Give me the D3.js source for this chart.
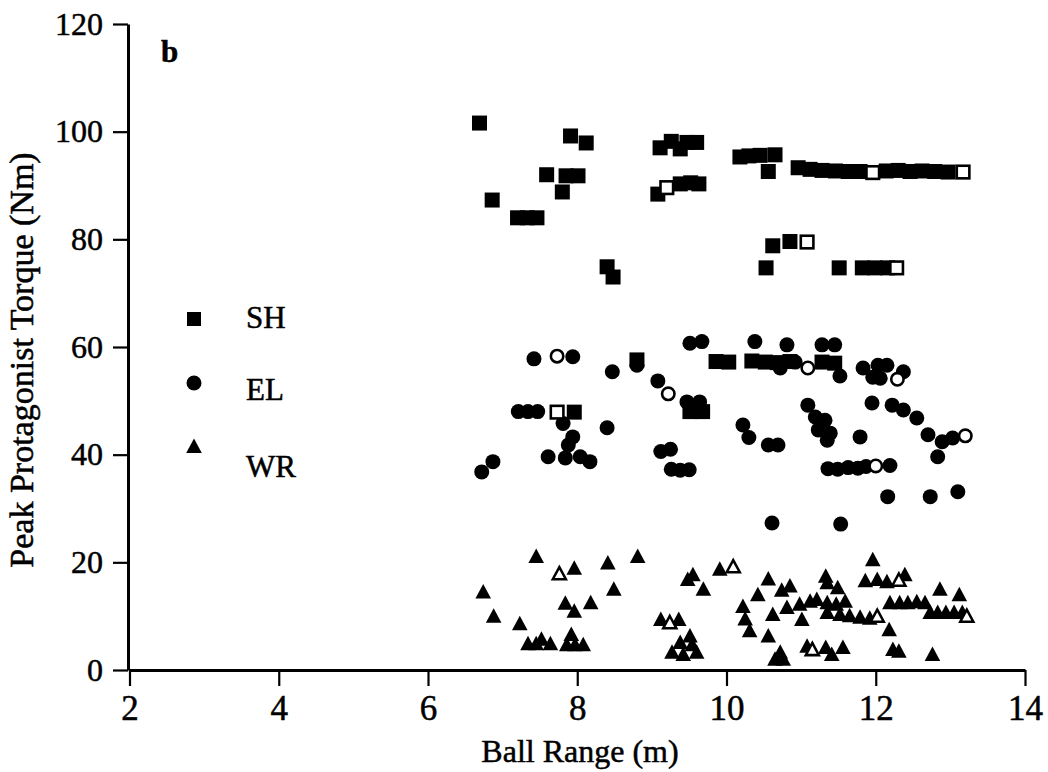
<!DOCTYPE html>
<html>
<head>
<meta charset="utf-8">
<script src="https://cdn.jsdelivr.net/npm/d3@7"></script>
<style>
  body { margin: 0; background: #fff; }
  text { font-family: "Liberation Serif", "Times New Roman", serif; fill: #000; stroke: #000; stroke-width: 0.5px; }
</style>
</head>
<body>
<svg id="chart" width="1048" height="772"></svg>
<script>
// Shoulder (SH) peak torque vs ball range; open markers flagged with 1
const shRange  = [6.69, 6.86, 7.20, 7.33, 7.46, 7.59, 7.80, 7.85, 7.91, 8.01, 8.12, 8.40, 8.48,
                  9.08, 9.20, 9.11, 9.26, 9.38, 9.47, 9.60, 9.38, 9.52, 9.63,
                  10.18, 10.30, 10.45, 10.65, 10.56,
                  10.96, 11.12, 11.28, 11.46, 11.63, 11.79, 11.96, 12.14, 12.30, 12.46, 12.62, 12.79, 12.97, 13.17,
                  10.62, 10.85, 11.08,
                  10.53, 11.51, 11.82, 11.99, 12.16, 12.28,
                  8.80, 7.73, 7.96, 9.51, 9.68,
                  9.86, 10.03, 10.34, 10.52, 10.68, 10.85, 11.28, 11.45];
const shTorque = [101.6, 87.3, 84.0, 84.0, 84.0, 92.0, 88.8, 91.8, 99.2, 91.8, 97.9, 74.9, 73.0,
                  88.4, 89.6, 97.0, 98.2, 96.8, 98.0, 98.0, 90.3, 90.5, 90.3,
                  95.3, 95.5, 95.6, 95.7, 92.6,
                  93.3, 93.0, 92.8, 92.7, 92.6, 92.6, 92.4, 92.7, 92.8, 92.6, 92.7, 92.6, 92.5, 92.5,
                  78.8, 79.6, 79.5,
                  74.7, 74.7, 74.7, 74.7, 74.7, 74.7,
                  57.6, 47.9, 47.9, 48.0, 48.0,
                  57.3, 57.2, 57.4, 57.2, 57.1, 57.3, 57.2, 57.0];
const shOpen   = [0, 0, 0, 0, 0, 0, 0, 0, 0, 0, 0, 0, 0,
                  0, 1, 0, 0, 0, 0, 0, 0, 0, 0,
                  0, 0, 0, 0, 0,
                  0, 0, 0, 0, 0, 0, 1, 0, 0, 0, 0, 0, 0, 1,
                  0, 0, 1,
                  0, 0, 0, 0, 0, 1,
                  0, 1, 0, 0, 0,
                  0, 0, 0, 0, 0, 0, 0, 0];

// Elbow (EL)
const elRange  = [7.42, 7.73, 7.94, 8.47, 8.80, 9.51, 9.67, 9.08, 9.22, 9.47, 9.64,
                  7.21, 7.34, 7.47, 7.81, 8.40, 7.94, 7.88, 7.61, 7.84, 8.04, 8.17, 6.87, 6.72,
                  9.12, 9.25, 9.26, 9.38, 9.50,
                  10.22, 10.30, 10.56, 10.69, 10.38, 10.81, 10.72, 10.92, 11.09, 11.28, 11.45, 11.52,
                  11.09, 11.19, 11.32, 11.23, 11.39, 11.35, 11.79, 11.95, 12.22, 12.37, 12.55,
                  11.83, 12.03, 12.15, 11.96, 12.06, 12.37, 12.29,
                  12.70, 12.89, 13.03, 13.20, 12.83,
                  11.36, 11.49, 11.63, 11.76, 11.87, 12.00, 12.19,
                  10.61, 11.53, 12.16, 12.73, 13.10];
const elTorque = [57.8, 58.3, 58.2, 55.4, 56.6, 60.7, 61.0, 53.7, 51.3, 49.8, 49.8,
                  48.0, 48.0, 48.0, 45.8, 45.0, 43.3, 41.8, 39.6, 39.4, 39.6, 38.7, 38.7, 36.8,
                  40.6, 41.0, 37.3, 37.1, 37.2,
                  45.5, 43.2, 41.8, 41.8, 61.0, 60.4, 56.1, 57.2, 56.1, 60.4, 60.4, 54.6,
                  49.2, 47.0, 46.4, 44.6, 44.0, 42.7, 43.3, 49.6, 49.2, 48.3, 46.8,
                  56.1, 56.6, 56.6, 54.4, 54.2, 55.4, 54.0,
                  43.7, 42.4, 43.1, 43.5, 39.6,
                  37.4, 37.3, 37.6, 37.5, 37.8, 37.9, 38.0,
                  27.3, 27.1, 32.2, 32.2, 33.1];
const elOpen   = [0, 1, 0, 0, 0, 0, 0, 0, 1, 0, 0,
                  0, 0, 0, 0, 0, 0, 0, 0, 0, 0, 0, 0, 0,
                  0, 0, 0, 0, 0,
                  0, 0, 0, 0, 0, 0, 0, 0, 1, 0, 0, 0,
                  0, 0, 0, 0, 0, 0, 0, 0, 0, 0, 0,
                  0, 0, 0, 0, 0, 0, 1,
                  0, 0, 0, 1, 0,
                  0, 0, 0, 0, 0, 1, 0,
                  0, 0, 0, 0, 0];

// Wrist (WR)
const wrRange  = [7.45, 7.76, 7.96, 8.41, 8.81, 8.49, 6.74, 6.88, 7.23, 7.84, 7.96, 8.18,
                  7.34, 7.45, 7.52, 7.64, 7.92, 7.86, 7.97, 8.08,
                  9.12, 9.24, 9.36, 9.51, 9.38, 9.27, 9.42, 9.60, 9.54,
                  9.55, 9.48, 9.69, 9.91, 10.09, 10.22, 10.25, 10.31,
                  10.56, 10.42, 10.74, 10.85, 10.62, 10.81, 10.98, 11.01, 10.56,
                  10.72, 10.65, 10.76, 11.08, 11.15, 11.33, 11.41, 11.56,
                  11.33, 11.35, 11.49, 11.12, 11.21, 11.35, 11.47, 11.59,
                  11.35, 11.52, 11.65, 11.79, 11.92, 12.02,
                  11.96, 11.86, 12.02, 12.15, 12.31, 12.39,
                  12.19, 12.32, 12.43, 12.55, 12.66, 12.18, 12.23, 12.31,
                  12.86, 13.12, 12.73, 12.83, 12.94, 13.05, 13.16, 13.22, 12.76];
const wrTorque = [21.0, 17.8, 18.8, 19.8, 21.0, 14.9, 14.4, 9.9, 8.5, 12.3, 10.8, 12.4,
                  4.8, 4.8, 5.6, 4.8, 6.5, 4.6, 4.6, 4.6,
                  9.3, 8.7, 9.3, 6.2, 5.0, 3.2, 2.8, 3.2, 4.6,
                  17.6, 16.7, 14.9, 18.6, 19.1, 11.7, 9.4, 7.2,
                  16.8, 13.9, 14.7, 15.5, 10.2, 11.5, 12.1, 9.3, 6.2,
                  3.2, 1.9, 1.9, 4.3, 3.7, 4.1, 2.8, 4.1,
                  17.3, 16.1, 15.2, 12.7, 13.0, 12.4, 12.1, 12.7,
                  10.6, 10.2, 10.0, 9.7, 9.5, 9.9,
                  20.4, 16.5, 16.7, 16.3, 16.6, 17.6,
                  12.4, 12.4, 12.4, 12.6, 12.4, 7.4, 3.7, 3.4,
                  14.9, 13.9, 10.6, 10.6, 10.6, 10.6, 10.6, 9.9, 2.8];
const wrOpen   = [0, 1, 0, 0, 0, 0, 0, 0, 0, 0, 0, 0,
                  0, 0, 0, 0, 0, 0, 0, 0,
                  0, 1, 0, 0, 0, 0, 0, 0, 0,
                  0, 0, 0, 0, 1, 0, 0, 0,
                  0, 0, 0, 0, 0, 0, 0, 0, 0,
                  0, 0, 0, 0, 1, 0, 0, 0,
                  0, 0, 0, 0, 0, 0, 0, 0,
                  0, 0, 0, 0, 0, 1,
                  0, 0, 0, 0, 1, 0,
                  0, 0, 0, 0, 0, 0, 0, 0,
                  0, 0, 0, 0, 0, 0, 0, 1, 0];

const legendLabels = ["SH", "EL", "WR"];
const xMajorTicks = [2, 4, 6, 8, 10, 12, 14];
const yMajorTicks = [0, 20, 40, 60, 80, 100, 120];

const svg = d3.select("#chart");

const x = d3.scaleLinear().domain([2, 14]).range([129.5, 1025]);
const y = d3.scaleLinear().domain([0, 120]).range([670, 24]);

// Marker shapes
const SQ = 15, R = 7.5;
const triPath = "M0,-8.5L7.8,6L-7.8,6Z";

function series(rangeArr, torqueArr, openArr) {
  return rangeArr.map((r, i) => ({ r, t: torqueArr[i], open: openArr[i] === 1 }));
}
const sh = series(shRange, shTorque, shOpen);
const el = series(elRange, elTorque, elOpen);
const wr = series(wrRange, wrTorque, wrOpen);

const marks = svg.append("g");

function drawSquares(data) {
  marks.selectAll(null).data(data).enter().append("rect")
    .attr("x", d => x(d.r) - SQ / 2 + (d.open ? 1.2 : 0))
    .attr("y", d => y(d.t) - SQ / 2 + (d.open ? 1.2 : 0))
    .attr("width", d => d.open ? SQ - 2.4 : SQ)
    .attr("height", d => d.open ? SQ - 2.4 : SQ)
    .attr("fill", d => d.open ? "#fff" : "#000")
    .attr("stroke", "#000")
    .attr("stroke-width", d => d.open ? 2.6 : 0);
}
function drawCircles(data) {
  marks.selectAll(null).data(data).enter().append("circle")
    .attr("cx", d => x(d.r))
    .attr("cy", d => y(d.t))
    .attr("r", d => d.open ? R - 1.3 : R)
    .attr("fill", d => d.open ? "#fff" : "#000")
    .attr("stroke", "#000")
    .attr("stroke-width", d => d.open ? 2.6 : 0);
}
function drawTriangles(data) {
  marks.selectAll(null).data(data).enter().append("path")
    .attr("d", triPath)
    .attr("transform", d => `translate(${x(d.r)},${y(d.t)})${d.open ? " scale(0.84)" : ""}`)
    .attr("fill", d => d.open ? "#fff" : "#000")
    .attr("stroke", "#000")
    .attr("stroke-width", d => d.open ? 3 : 0)
    .attr("stroke-linejoin", "miter");
}

// filled markers first, open markers on top
drawSquares(sh.filter(d => !d.open));
drawCircles(el.filter(d => !d.open));
drawTriangles(wr.filter(d => !d.open));
drawSquares(sh.filter(d => d.open));
drawCircles(el.filter(d => d.open));
drawTriangles(wr.filter(d => d.open));

// Axes: minor ticks, then major ticks with labels
const gx = svg.append("g").attr("transform", `translate(0,${y(0)})`);
gx.call(d3.axisBottom(x).tickValues(d3.range(2, 14.01, 0.5)).tickSize(7).tickSizeOuter(0).tickFormat(""));
gx.call(d3.axisBottom(x).tickValues(xMajorTicks).tickSize(16).tickSizeOuter(0).tickPadding(9).tickFormat(d3.format("d")));
gx.selectAll("text").style("font-size", "35px");

const gy = svg.append("g").attr("transform", `translate(${x(2) - 1.5},0)`);
gy.call(d3.axisLeft(y).tickValues(d3.range(0, 120.01, 5)).tickSize(8).tickSizeOuter(0).tickFormat(""));
gy.call(d3.axisLeft(y).tickValues(yMajorTicks).tickSize(15).tickSizeOuter(0).tickPadding(10).tickFormat(d3.format("d")));
gy.selectAll("text").style("font-size", "32px");

svg.selectAll(".domain").attr("stroke", "#000").attr("stroke-width", 3);
svg.selectAll(".tick line").attr("stroke", "#000").attr("stroke-width", 2.2);

// Axis titles
svg.append("text")
  .attr("x", 580).attr("y", 762)
  .attr("text-anchor", "middle")
  .style("font-size", "32px")
  .text("Ball Range (m)");

svg.append("text")
  .attr("transform", "translate(33,360) rotate(-90)")
  .attr("text-anchor", "middle")
  .style("font-size", "34px")
  .text("Peak Protagonist Torque (Nm)");

// Panel letter
svg.append("text")
  .attr("x", 161).attr("y", 62)
  .style("font-size", "31px").style("font-weight", "bold")
  .text("b");

// Legend
const legendY = [319, 383, 447];
const lg = svg.append("g");
lg.append("rect").attr("x", 187).attr("y", legendY[0] - 7).attr("width", 14).attr("height", 14).attr("fill", "#000");
lg.append("circle").attr("cx", 194).attr("cy", legendY[1]).attr("r", 7.5).attr("fill", "#000");
lg.append("path").attr("d", triPath).attr("transform", `translate(194,${legendY[2]})`).attr("fill", "#000");
lg.selectAll("text.lab").data(legendLabels).enter().append("text")
  .attr("class", "lab")
  .attr("x", 246)
  .attr("y", (d, i) => [328, 400, 477][i])
  .style("font-size", "31px")
  .text(d => d);
</script>
</body>
</html>
